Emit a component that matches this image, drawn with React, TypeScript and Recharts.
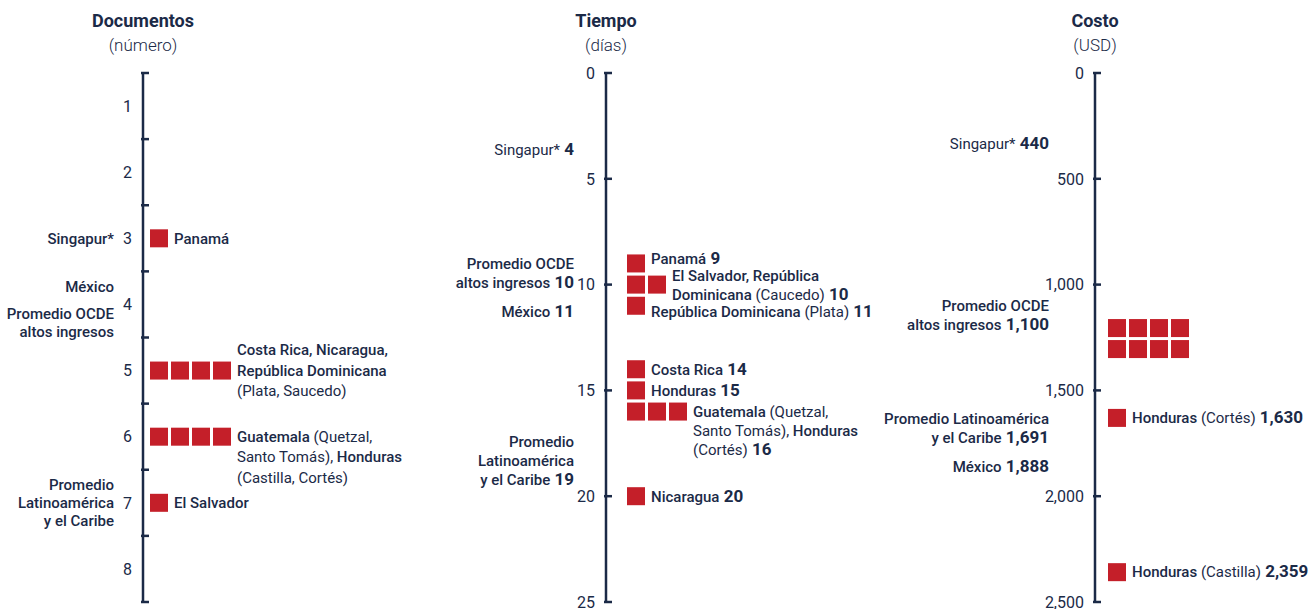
import React from "react";
import { ScatterChart, Scatter, XAxis, YAxis } from "recharts";

const NAVY = "#1b2a47";
const RED = "#c41f29";
const FONT = "Roboto, 'Open Sans', sans-serif";

// Documentos (número)
const docTicks = [0.5, 1, 1.5, 2, 2.5, 3, 3.5, 4, 4.5, 5, 5.5, 6, 6.5, 7, 7.5, 8, 8.5];
const docValues = [3, 5, 6, 7];
const docCounts = [1, 4, 4, 1];
const docNames = [
  ["Panamá"],
  ["Costa Rica, Nicaragua,", "República Dominicana", "[(Plata, Saucedo)]"],
  ["Guatemala [(Quetzal,]", "[Santo Tomás),] Honduras", "[(Castilla, Cortés)]"],
  ["El Salvador"],
];
const docRefValues = [3, 4, 4, 7];
const docRefNames = [
  ["Singapur*"],
  ["México"],
  ["Promedio OCDE", "altos ingresos"],
  ["Promedio", "Latinoamérica", "y el Caribe"],
];

// Tiempo (días)
const timeTicks = [0, 5, 10, 15, 20, 25];
const timeValues = [9, 10, 11, 14, 15, 16, 20];
const timeCounts = [1, 2, 1, 1, 1, 3, 1];
const timeNames = [
  ["Panamá"],
  ["El Salvador, República", "Dominicana [(Caucedo)]"],
  ["República Dominicana [(Plata)]"],
  ["Costa Rica"],
  ["Honduras"],
  ["Guatemala [(Quetzal,]", "[Santo Tomás),] Honduras", "[(Cortés)]"],
  ["Nicaragua"],
];
const timeRefValues = [4, 10, 11, 19];
const timeRefNames = [
  ["[Singapur*]"],
  ["Promedio OCDE", "altos ingresos"],
  ["México"],
  ["Promedio", "Latinoamérica", "y el Caribe"],
];

// Costo (USD)
const costTicks = [0, 500, 1000, 1500, 2000, 2500];
const costValues = [1255, 1630, 2359];
const costCounts = [8, 1, 1];
const costNames = [[], ["Honduras [(Cortés)]"], ["Honduras [(Castilla)]"]];
const costRefValues = [440, 1100, 1691, 1888];
const costRefNames = [
  ["[Singapur*]"],
  ["Promedio OCDE", "altos ingresos"],
  ["Promedio Latinoamérica", "y el Caribe"],
  ["México"],
];

// label placement (which line sits on the value, in line units)
const docNameAnchor = [0, 1, 0, 0];
const docRefAnchor = [0, 1, -0.5, 1];
const timeNameAnchor = [0.25, 0.45, -0.3, 0, 0, 0, 0];
const timeRefAnchor = [0.4, 1.1, -0.3, 1.75];
const costNameAnchor = [0, 0, 0];
const costRefAnchor = [1.2, 0, 0.62, 0.3];

const SQ = 18;
const PITCH = 21;
const PER_ROW = 4;

const fmt = (v: number) => v.toLocaleString("en-US");

const toMarks = (values: number[], counts: number[], names: string[][], anchors: number[]) =>
  values.map((v, i) => ({ x: 0, y: v, n: counts[i], lines: names[i], anchor: anchors[i] }));
const toRefs = (values: number[], names: string[][], anchors: number[]) =>
  values.map((v, i) => ({ x: 0, y: v, lines: names[i], anchor: anchors[i] }));

function RichLine({ x, y, text, align, value }: any) {
  const parts = text.split(/(\[[^\]]*\])/).filter(Boolean);
  return (
    <text
      x={x}
      y={y + 5.3}
      textAnchor={align}
      fontFamily={FONT}
      fontSize={15}
      fill={NAVY}
      style={{ whiteSpace: "pre" }}
    >
      {parts.map((p: string, i: number) =>
        p.startsWith("[") ? (
          <tspan key={i} fontWeight={400}>{p.slice(1, -1)}</tspan>
        ) : (
          <tspan key={i} fontWeight={500}>{p}</tspan>
        )
      )}
      {value != null && (
        <tspan fontWeight={700} fontSize={17}>{" " + value}</tspan>
      )}
    </text>
  );
}

const panels = [
  {
    key: "doc",
    title: "Documentos",
    unit: "(número)",
    left: 0,
    width: 440,
    axisX: 143,
    domain: [0.5, 8.5],
    ticks: docTicks,
    half: true,
    marks: toMarks(docValues, docCounts, docNames, docNameAnchor),
    refs: toRefs(docRefValues, docRefNames, docRefAnchor),
    squareGap: 7,
    refGap: 29,
    lineH: 20.5,
    refLineH: 18,
    showValues: false,
  },
  {
    key: "time",
    title: "Tiempo",
    unit: "(días)",
    left: 440,
    width: 440,
    axisX: 606,
    domain: [0, 25],
    ticks: timeTicks,
    half: false,
    marks: toMarks(timeValues, timeCounts, timeNames, timeNameAnchor),
    refs: toRefs(timeRefValues, timeRefNames, timeRefAnchor),
    squareGap: 21,
    refGap: 32,
    lineH: 19,
    refLineH: 19,
    showValues: true,
  },
  {
    key: "cost",
    title: "Costo",
    unit: "(USD)",
    left: 880,
    width: 435,
    axisX: 1095,
    domain: [0, 2500],
    ticks: costTicks,
    half: false,
    marks: toMarks(costValues, costCounts, costNames, costNameAnchor),
    refs: toRefs(costRefValues, costRefNames, costRefAnchor),
    squareGap: 13,
    refGap: 46,
    lineH: 19,
    refLineH: 19,
    showValues: true,
  },
];

function PanelChart({ cfg }: any) {
  const renderTick = (p: any) => {
    const { x, y, payload } = p;
    const v = payload.value;
    const isInt = Number.isInteger(v);
    const showLine = cfg.half ? !isInt : true;
    const showLabel = cfg.half ? isInt : true;
    return (
      <g>
        {showLine && (
          <line x1={x} x2={x + 8} y1={y} y2={y} stroke={NAVY} strokeWidth={2.5} />
        )}
        {showLabel && (
          <text
            x={x - 9}
            y={y + 5.7}
            textAnchor="end"
            fontFamily={FONT}
            fontSize={16}
            fill={NAVY}
          >
            {fmt(v)}
          </text>
        )}
      </g>
    );
  };

  const renderMarks = (p: any) => {
    const { cx, cy, payload } = p;
    const n = payload.n;
    const rows = Math.ceil(n / PER_ROW);
    const cols = Math.min(n, PER_ROW);
    const x0 = cx + cfg.squareGap;
    const top = cy - ((rows - 1) * PITCH + SQ) / 2;
    const squares = [];
    for (let i = 0; i < n; i++) {
      const c = i % PER_ROW;
      const r = Math.floor(i / PER_ROW);
      squares.push(
        <rect key={i} x={x0 + c * PITCH} y={top + r * PITCH} width={SQ} height={SQ} fill={RED} />
      );
    }
    const tx = x0 + (cols - 1) * PITCH + SQ + 6;
    const lines: string[] = payload.lines;
    return (
      <g>
        {squares}
        {lines.map((t, i) => (
          <RichLine
            key={i}
            x={tx}
            y={cy + (i - payload.anchor) * cfg.lineH}
            text={t}
            align="start"
            value={cfg.showValues && i === lines.length - 1 ? fmt(payload.y) : null}
          />
        ))}
      </g>
    );
  };

  const renderRefs = (p: any) => {
    const { cx, cy, payload } = p;
    const lines: string[] = payload.lines;
    return (
      <g>
        {lines.map((t, i) => (
          <RichLine
            key={i}
            x={cx - cfg.refGap}
            y={cy + (i - payload.anchor) * cfg.refLineH}
            text={t}
            align="end"
            value={cfg.showValues && i === lines.length - 1 ? fmt(payload.y) : null}
          />
        ))}
      </g>
    );
  };

  return (
    <div style={{ position: "absolute", left: cfg.left, top: 0, width: cfg.width, height: 609 }}>
      <div
        style={{
          position: "absolute",
          left: cfg.axisX - cfg.left - 100,
          top: 8,
          width: 200,
          textAlign: "center",
          color: NAVY,
          fontFamily: FONT,
          lineHeight: "25px",
        }}
      >
        <div style={{ fontSize: 18, fontWeight: 700 }}>{cfg.title}</div>
        <div style={{ fontSize: 17, fontWeight: 300 }}>{cfg.unit}</div>
      </div>
      <div style={{ position: "absolute", left: 0, top: 0 }}>
        <ScatterChart
          width={cfg.width}
          height={609}
          margin={{ top: 73, right: 0, bottom: 7, left: 0 }}
        >
          <XAxis type="number" dataKey="x" domain={[0, 1]} hide />
          <YAxis
            type="number"
            dataKey="y"
            domain={cfg.domain}
            reversed
            ticks={cfg.ticks}
            interval={0}
            width={cfg.axisX - cfg.left}
            tickSize={0}
            tickLine={false}
            axisLine={{ stroke: NAVY, strokeWidth: 2.5 }}
            tick={renderTick}
          />
          <Scatter data={cfg.marks} shape={renderMarks} isAnimationActive={false} />
          <Scatter data={cfg.refs} shape={renderRefs} isAnimationActive={false} />
        </ScatterChart>
      </div>
    </div>
  );
}

export default function App() {
  return (
    <div
      style={{
        position: "absolute",
        left: 0,
        top: 0,
        width: 1315,
        height: 609,
        background: "#fff",
        overflow: "hidden",
      }}
    >
      {panels.map((cfg) => (
        <PanelChart key={cfg.key} cfg={cfg} />
      ))}
    </div>
  );
}
